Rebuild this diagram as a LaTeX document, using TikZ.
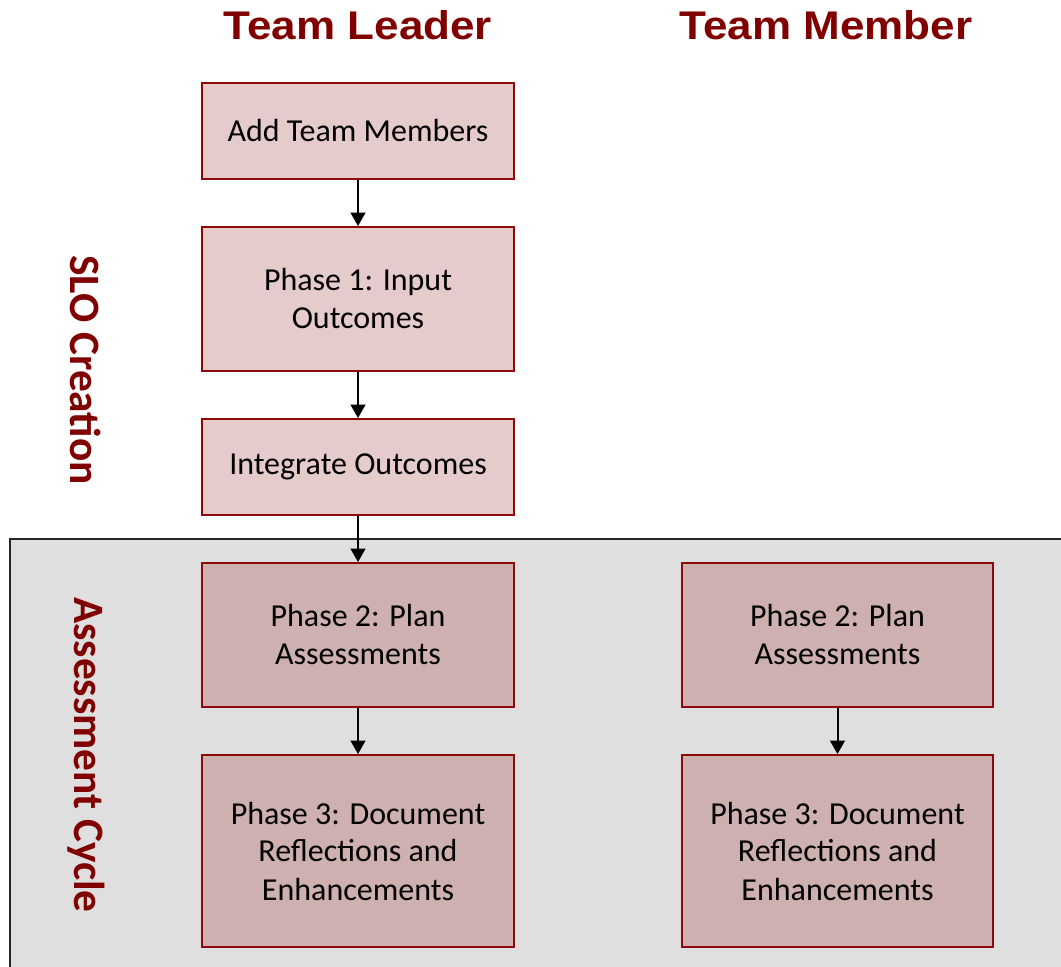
\documentclass[tikz,border=0pt]{standalone}
\usepackage{fontspec}
\setmainfont{Carlito}
\newfontfamily\headfont{Liberation Sans}
\usetikzlibrary{arrows.meta}
\definecolor{lightbox}{HTML}{E5CBCC}
\definecolor{darkbox}{HTML}{CEB0B1}
\definecolor{boxline}{HTML}{8E0A0A}
\definecolor{headred}{HTML}{800000}
\definecolor{graybg}{HTML}{DFDFDF}
\tikzset{
  stepbox/.style={draw=boxline, line width=1.5pt, align=center, inner sep=0pt, font=\fontsize{24}{28.5}\selectfont},
  light/.style={stepbox, fill=lightbox},
  dark/.style={stepbox, fill=darkbox},
  header/.style={text=headred, font=\headfont\bfseries\fontsize{30}{34}\selectfont},
  sidelabel/.style={text=headred, rotate=-90, font=\bfseries\fontsize{32.5}{38}\selectfont},
  flow/.style={line width=1.5pt, -{Triangle[width=11pt,length=10pt]}}
}
\begin{document}
\begin{tikzpicture}[x=0.75pt,y=-0.75pt]
\useasboundingbox (0,0) rectangle (1061,967);
\fill[graybg] (10,539) rectangle (1070,975);
\draw[line width=1.5pt, draw=black!85] (1070,539) -- (10,539) -- (10,975);
\node[header] (tl) at (358,25) {\scalebox{1.1}[1]{Team Leader}};
\node[header] (tm) at (826,25) {\scalebox{1.1}[1]{Team Member}};
\node[light, minimum width=312*0.75pt, minimum height=96*0.75pt] (add) at (358,131) {Add Team Members};
\node[light, minimum width=312*0.75pt, minimum height=144*0.75pt] (p1) at (358,299) {Phase 1: Input\\Outcomes};
\node[light, minimum width=312*0.75pt, minimum height=96*0.75pt] (int) at (358,467) {Integrate Outcomes};
\node[dark, minimum width=312*0.75pt, minimum height=144*0.75pt] (p2l) at (358,635) {Phase 2: Plan\\Assessments};
\node[dark, minimum width=312*0.75pt, minimum height=192*0.75pt] (p3l) at (358,851) {Phase 3: Document\\Reflections and\\Enhancements};
\node[dark, minimum width=311*0.75pt, minimum height=144*0.75pt] (p2r) at (837.5,635) {Phase 2: Plan\\Assessments};
\node[dark, minimum width=311*0.75pt, minimum height=192*0.75pt] (p3r) at (837.5,851) {Phase 3: Document\\Reflections and\\Enhancements};
\node[sidelabel] (slo) at (86,370) {SLO Creation};
\node[sidelabel] (ac) at (86,755) {Assessment Cycle};
\draw[flow] (add) -- (p1);
\draw[flow] (p1) -- (int);
\draw[flow] (int) -- (p2l);
\draw[flow] (p2l) -- (p3l);
\draw[flow] (p2r) -- (p3r);
\end{tikzpicture}
\end{document}
